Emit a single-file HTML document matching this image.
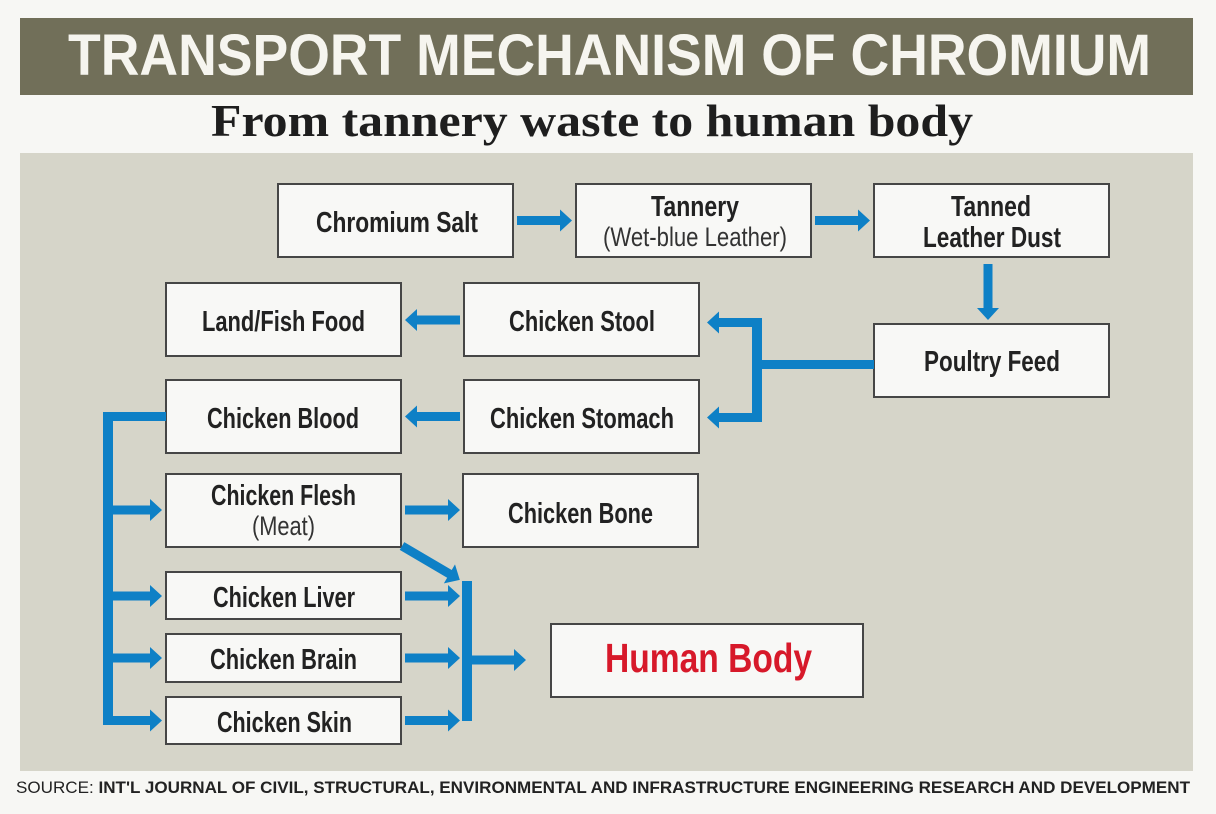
<!DOCTYPE html>
<html>
<head>
<meta charset="utf-8">
<style>
  html,body{margin:0;padding:0;background:#f7f7f4;}
  svg{display:block;}
  .bx{fill:#f8f8f6;stroke:#464646;stroke-width:2;}
  .t{font-family:"Liberation Sans",sans-serif;font-weight:bold;font-size:29px;fill:#222;text-anchor:middle;}
  .r{font-family:"Liberation Sans",sans-serif;font-weight:normal;font-size:27px;fill:#333;text-anchor:middle;}
  .a{fill:#0e80c6;}
</style>
</head>
<body>
<svg width="1216" height="814" viewBox="0 0 1216 814" xmlns="http://www.w3.org/2000/svg">
  <rect x="0" y="0" width="1216" height="814" fill="#f7f7f4"/>
  <!-- title bar -->
  <rect x="20" y="18" width="1173" height="77" fill="#716f59"/>
  <text x="609.5" y="75" font-family="Liberation Sans, sans-serif" font-weight="bold" font-size="58" fill="#f6f5ef" text-anchor="middle" textLength="1083" lengthAdjust="spacingAndGlyphs">TRANSPORT MECHANISM OF CHROMIUM</text>
  <!-- subtitle -->
  <text x="592" y="136" font-family="Liberation Serif, serif" font-weight="bold" font-size="46" fill="#1e1e1e" text-anchor="middle" textLength="762" lengthAdjust="spacingAndGlyphs">From tannery waste to human body</text>
  <!-- panel -->
  <rect x="20" y="153" width="1173" height="618" fill="#d6d5c9"/>

  <!-- boxes -->
  <rect class="bx" x="278" y="184" width="235" height="73"/>
  <rect class="bx" x="576" y="184" width="235" height="73"/>
  <rect class="bx" x="874" y="184" width="235" height="73"/>
  <rect class="bx" x="166" y="283" width="235" height="73"/>
  <rect class="bx" x="464" y="283" width="235" height="73"/>
  <rect class="bx" x="874" y="324" width="235" height="73"/>
  <rect class="bx" x="166" y="380" width="235" height="73"/>
  <rect class="bx" x="464" y="380" width="235" height="73"/>
  <rect class="bx" x="166" y="474" width="235" height="73"/>
  <rect class="bx" x="463" y="474" width="235" height="73"/>
  <rect class="bx" x="166" y="572" width="235" height="47"/>
  <rect class="bx" x="166" y="634" width="235" height="48"/>
  <rect class="bx" x="166" y="697" width="235" height="47"/>
  <rect class="bx" x="551" y="624" width="312" height="73"/>

  <!-- labels -->
  <text class="t" x="397" y="232" textLength="162" lengthAdjust="spacingAndGlyphs">Chromium Salt</text>
  <text class="t" x="695" y="216" textLength="88" lengthAdjust="spacingAndGlyphs">Tannery</text>
  <text class="r" x="695" y="246" textLength="184" lengthAdjust="spacingAndGlyphs">(Wet-blue Leather)</text>
  <text class="t" x="991" y="216" textLength="80" lengthAdjust="spacingAndGlyphs">Tanned</text>
  <text class="t" x="992" y="247" textLength="138" lengthAdjust="spacingAndGlyphs">Leather Dust</text>
  <text class="t" x="283.5" y="331" textLength="163" lengthAdjust="spacingAndGlyphs">Land/Fish Food</text>
  <text class="t" x="582" y="331" textLength="146" lengthAdjust="spacingAndGlyphs">Chicken Stool</text>
  <text class="t" x="992" y="371" textLength="136" lengthAdjust="spacingAndGlyphs">Poultry Feed</text>
  <text class="t" x="283" y="428" textLength="152" lengthAdjust="spacingAndGlyphs">Chicken Blood</text>
  <text class="t" x="582" y="428" textLength="184" lengthAdjust="spacingAndGlyphs">Chicken Stomach</text>
  <text class="t" x="283.5" y="505" textLength="145" lengthAdjust="spacingAndGlyphs">Chicken Flesh</text>
  <text class="r" x="283.5" y="535" textLength="63" lengthAdjust="spacingAndGlyphs">(Meat)</text>
  <text class="t" x="580.5" y="523" textLength="145" lengthAdjust="spacingAndGlyphs">Chicken Bone</text>
  <text class="t" x="284" y="607" textLength="142" lengthAdjust="spacingAndGlyphs">Chicken Liver</text>
  <text class="t" x="283.5" y="669" textLength="147" lengthAdjust="spacingAndGlyphs">Chicken Brain</text>
  <text class="t" x="284.5" y="732" textLength="135" lengthAdjust="spacingAndGlyphs">Chicken Skin</text>
  <text x="708.5" y="672" font-family="Liberation Sans, sans-serif" font-weight="bold" font-size="41" fill="#d7192a" text-anchor="middle" textLength="207" lengthAdjust="spacingAndGlyphs">Human Body</text>

  <!-- arrows -->
  <path class="a" d="M517 216 L560 216 L560 209.5 L572 220.5 L560 231.5 L560 225 L517 225 Z"/>
  <path class="a" d="M815 216 L858 216 L858 209.5 L870 220.5 L858 231.5 L858 225 L815 225 Z"/>
  <path class="a" d="M983.5 264 L983.5 308 L977 308 L988 320 L999 308 L992.5 308 L992.5 264 Z"/>
  <!-- poultry bracket -->
  <rect class="a" x="760" y="360" width="114" height="9"/>
  <rect class="a" x="752" y="318" width="10" height="104"/>
  <path class="a" d="M762 318 L719 318 L719 311.5 L707 322.5 L719 333.5 L719 327 L762 327 Z"/>
  <path class="a" d="M762 413 L719 413 L719 406.5 L707 417.5 L719 428.5 L719 422 L762 422 Z"/>
  <!-- left-pointing -->
  <path class="a" d="M460 315.5 L417 315.5 L417 309 L405 320 L417 331 L417 324.5 L460 324.5 Z"/>
  <path class="a" d="M460 412 L417 412 L417 405.5 L405 416.5 L417 427.5 L417 421 L460 421 Z"/>
  <!-- left bracket -->
  <rect class="a" x="103" y="412" width="63" height="9"/>
  <rect class="a" x="103" y="412" width="10" height="313"/>
  <path class="a" d="M113 505.5 L150 505.5 L150 499 L162 510 L150 521 L150 514.5 L113 514.5 Z"/>
  <path class="a" d="M113 591.5 L150 591.5 L150 585 L162 596 L150 607 L150 600.5 L113 600.5 Z"/>
  <path class="a" d="M113 653.5 L150 653.5 L150 647 L162 658 L150 669 L150 662.5 L113 662.5 Z"/>
  <path class="a" d="M113 716 L150 716 L150 709.5 L162 720.5 L150 731.5 L150 725 L113 725 Z"/>
  <!-- right side to bar -->
  <path class="a" d="M405 505.5 L448 505.5 L448 499 L460 510 L448 521 L448 514.5 L405 514.5 Z"/>
  <path class="a" d="M405 591.5 L448 591.5 L448 585 L460 596 L448 607 L448 600.5 L405 600.5 Z"/>
  <path class="a" d="M405 653.5 L448 653.5 L448 647 L460 658 L448 669 L448 662.5 L405 662.5 Z"/>
  <path class="a" d="M405 716 L448 716 L448 709.5 L460 720.5 L448 731.5 L448 725 L405 725 Z"/>
  <g transform="translate(402,546) rotate(30.4)">
    <path class="a" d="M0 -4.5 L55 -4.5 L55 -11 L67 0 L55 11 L55 4.5 L0 4.5 Z"/>
  </g>
  <rect class="a" x="462" y="581" width="10" height="140"/>
  <path class="a" d="M472 655.5 L514 655.5 L514 649 L526 660 L514 671 L514 664.5 L472 664.5 Z"/>

  <!-- footer -->
  <text x="16" y="793" font-family="Liberation Sans, sans-serif" font-size="17" fill="#222" textLength="1174" lengthAdjust="spacingAndGlyphs"><tspan font-weight="normal">SOURCE: </tspan><tspan font-weight="bold">INT'L JOURNAL OF CIVIL, STRUCTURAL, ENVIRONMENTAL AND INFRASTRUCTURE ENGINEERING RESEARCH AND DEVELOPMENT</tspan></text>
</svg>
</body>
</html>
